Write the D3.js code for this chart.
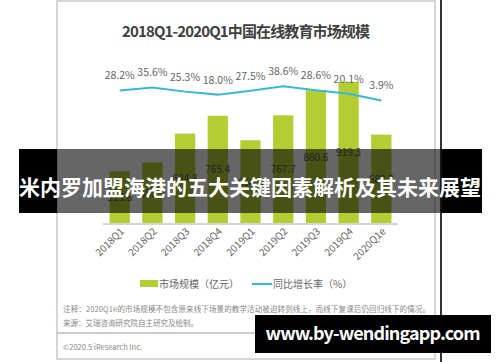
<!DOCTYPE html>
<html>
<head>
<meta charset="utf-8">
<script src="https://cdn.jsdelivr.net/npm/d3@7"></script>
<style>
  body { margin: 0; background: #fff; }
  svg { display: block; font-family: "Noto Sans CJK SC", "Noto Sans", sans-serif; }
</style>
</head>
<body>
<svg width="500" height="362"></svg>
<script>
// 季度
let quarters = ['2018Q1', '2018Q2', '2018Q3', '2018Q4', '2019Q1', '2019Q2', '2019Q3', '2019Q4', '2020Q1e'];
// 市场规模（亿元）
let marketSize = [513.6, 553.9, 684.8, 765.4, 654.8, 767.7, 880.6, 919.3, 680.3];
// 同比增长率（%）
let growthRate = [28.2, 35.6, 25.3, 18.0, 27.5, 38.6, 28.6, 20.1, 3.9];

let svg = d3.select('svg');

// 卡片边框
svg.append('rect')
    .attr('x', 57).attr('y', 1)
    .attr('width', 378).attr('height', 358)
    .attr('fill', '#fff')
    .attr('stroke', '#c8c8c8')
    .attr('stroke-width', 1.5);

svg.append('line')
    .attr('x1', 441).attr('x2', 441)
    .attr('y1', 0).attr('y2', 362)
    .attr('stroke', '#333')
    .attr('stroke-width', 2);

// 标题
svg.append('text')
    .attr('x', 246).attr('y', 37)
    .attr('text-anchor', 'middle')
    .attr('font-size', 15)
    .attr('font-weight', 'bold')
    .attr('fill', '#404040')
    .attr('textLength', 248)
    .text('2018Q1-2020Q1中国在线教育市场规模');

// 比例尺
let x = d3.scaleBand()
    .domain(quarters)
    .range([103, 398])
    .paddingInner(0.38)
    .paddingOuter(0.2);

let y = d3.scaleLinear()
    .domain([280, 1000])
    .range([223, 64]);

let yRate = d3.scaleLinear()
    .domain([0, 100])
    .range([102, 61]);

// 柱子
svg.append('g')
    .selectAll('rect')
    .data(marketSize)
    .enter()
    .append('rect')
    .attr('x', (d, i) => x(quarters[i]))
    .attr('y', d => y(d))
    .attr('width', x.bandwidth())
    .attr('height', d => y(280) - y(d))
    .attr('fill', '#b4cd33');

// 柱内数值
svg.append('g')
    .selectAll('text')
    .data(marketSize)
    .enter()
    .append('text')
    .attr('x', (d, i) => x(quarters[i]) + x.bandwidth() / 2)
    .attr('y', d => (y(d) + y(280)) / 2 + 4)
    .attr('text-anchor', 'middle')
    .attr('font-size', 10)
    .attr('fill', '#555')
    .text(d => d.toFixed(1));

// 横轴线
svg.append('line')
    .attr('x1', 103).attr('x2', 398)
    .attr('y1', 224).attr('y2', 224)
    .attr('stroke', '#aaa')
    .attr('stroke-width', 1);

// 横轴标签
svg.append('g')
    .selectAll('text')
    .data(quarters)
    .enter()
    .append('text')
    .attr('transform', d => 'translate(' + (x(d) + x.bandwidth() / 2 + 5) + ',232) rotate(-45)')
    .attr('text-anchor', 'end')
    .attr('font-size', 10)
    .attr('fill', '#666')
    .text(d => d);

// 增长率折线
let line = d3.line()
    .x((d, i) => x(quarters[i]) + x.bandwidth() / 2)
    .y(d => yRate(d));

svg.append('path')
    .datum(growthRate)
    .attr('d', line)
    .attr('fill', 'none')
    .attr('stroke', '#3bb6d6')
    .attr('stroke-width', 2);

svg.append('g')
    .selectAll('text')
    .data(growthRate)
    .enter()
    .append('text')
    .attr('x', (d, i) => x(quarters[i]) + x.bandwidth() / 2)
    .attr('y', d => yRate(d) - 11)
    .attr('text-anchor', 'middle')
    .attr('font-size', 10.5)
    .attr('fill', '#666')
    .text(d => d.toFixed(1) + '%');

// 图例
let legend = svg.append('g').attr('font-size', 10).attr('fill', '#666');
legend.append('rect')
    .attr('x', 140).attr('y', 280).attr('width', 18).attr('height', 7)
    .attr('fill', '#b4cd33');
legend.append('text').attr('x', 159).attr('y', 288).text('市场规模（亿元）');
legend.append('line')
    .attr('x1', 252).attr('x2', 272).attr('y1', 284).attr('y2', 284)
    .attr('stroke', '#3bb6d6').attr('stroke-width', 2);
legend.append('text').attr('x', 273).attr('y', 288).text('同比增长率（%）');

// 注释
let note = svg.append('g').attr('font-size', 7.5).attr('fill', '#888');
note.append('text').attr('x', 63).attr('y', 312)
    .attr('textLength', 367)
    .text('注释：2020Q1e的市场规模不包含原来线下场景的教学活动被迫转到线上，而线下复课后仍回归线下的情况。');
note.append('text').attr('x', 63).attr('y', 326)
    .text('来源：艾瑞咨询研究院自主研究及绘制。');

svg.append('line')
    .attr('x1', 57).attr('x2', 435)
    .attr('y1', 333).attr('y2', 333)
    .attr('stroke', '#999').attr('stroke-width', 1);

note.append('text').attr('x', 63).attr('y', 350).text('©2020.5 iResearch Inc.');
note.append('text').attr('x', 430).attr('y', 350).attr('text-anchor', 'end').text('www.iresearch.com.cn');

// 横幅
svg.append('rect')
    .attr('x', 19).attr('y', 149).attr('width', 38).attr('height', 64)
    .attr('fill', '#000');
svg.append('rect')
    .attr('x', 442).attr('y', 149).attr('width', 40).attr('height', 64)
    .attr('fill', '#000');
svg.append('rect')
    .attr('x', 57).attr('y', 149).attr('width', 385).attr('height', 64)
    .attr('fill', 'rgba(0,0,0,0.6)');
svg.append('text')
    .attr('x', 250).attr('y', 195)
    .attr('text-anchor', 'middle')
    .attr('font-size', 21)
    .attr('font-weight', 'bold')
    .attr('fill', '#fff')
    .attr('textLength', 462)
    .text('米内罗加盟海港的五大关键因素解析及其未来展望');

// 水印
svg.append('rect')
    .attr('x', 255).attr('y', 315).attr('width', 236).attr('height', 38)
    .attr('fill', '#000');
svg.append('text')
    .attr('x', 373).attr('y', 340)
    .attr('text-anchor', 'middle')
    .attr('font-size', 18)
    .attr('font-weight', 'bold')
    .attr('fill', '#fff')
    .attr('textLength', 215)
    .text('www.by-wendingapp.com');
</script>
</body>
</html>
